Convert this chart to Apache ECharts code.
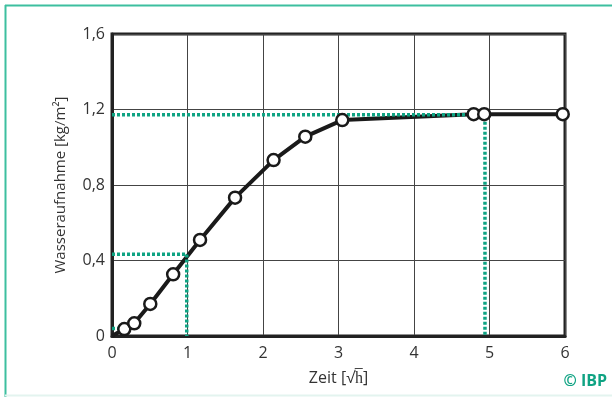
<!DOCTYPE html>
<html>
<head>
<meta charset="utf-8">
<script src="https://cdn.jsdelivr.net/npm/echarts@6/dist/echarts.min.js"></script>
<style>
  html, body { margin: 0; padding: 0; background: #fff; }
  #chart { width: 612px; height: 397px; }
</style>
</head>
<body>
<div id="chart"></div>
<script>
// Wasseraufnahme über Wurzel der Zeit
const timeX = [0, 0.163, 0.295, 0.507, 0.81, 1.166, 1.63, 2.14, 2.56, 3.05, 4.79, 4.93, 5.97]
const uptakeY = [0, 0.037, 0.067, 0.17, 0.327, 0.509, 0.733, 0.932, 1.056, 1.144, 1.175, 1.175, 1.175]
// Hilfslinien (gepunktet, grün): [x, y]
const guideLow = [[0, 0.04], [0.163, 0.04], [0.163, 0]]
const guideMid = [[0, 0.433], [0.99, 0.433], [0.99, 0]]
const guideHigh = [[0, 1.172], [4.94, 1.172], [4.94, 0]]
const yTicks = ['0', '0,4', '0,8', '1,2', '1,6']

const teal = '#0fa383'
const font = 'Open Sans'

const points = timeX.map((x, i) => [x, uptakeY[i]])
const guideStyle = { color: teal, width: 3.5, type: [3, 2] }

const chart = echarts.init(document.getElementById('chart'))
chart.setOption({
  animation: false,
  textStyle: { fontFamily: font },
  grid: {
    left: 112, top: 34, right: 47, bottom: 61,
    show: true, borderColor: '#222', borderWidth: 3
  },
  graphic: [
    { type: 'line', shape: { x1: 5.5, y1: 5, x2: 5.5, y2: 397 }, style: { stroke: '#3dbf9f', lineWidth: 2 } },
    { type: 'line', shape: { x1: 5, y1: 5.5, x2: 612, y2: 5.5 }, style: { stroke: '#3dbf9f', lineWidth: 2 } },
    { type: 'line', shape: { x1: 5, y1: 395.5, x2: 612, y2: 395.5 }, style: { stroke: '#e3f4ef', lineWidth: 2 } },
    {
      type: 'text', right: 5, top: 373,
      style: { text: '© IBP', fill: teal, font: 'bold 16px "Open Sans"' }
    }
  ],
  xAxis: {
    type: 'value', min: 0, max: 6, interval: 1,
    name: 'Zeit [√h̅]', nameLocation: 'middle', nameGap: 34,
    nameTextStyle: { fontSize: 16, color: '#333', fontFamily: font },
    axisLine: { show: true, lineStyle: { color: '#222', width: 3 } },
    axisTick: { show: false },
    axisLabel: { fontSize: 16, color: '#333', margin: 9, fontFamily: font },
    splitLine: { show: true, lineStyle: { color: '#444', width: 1 } }
  },
  yAxis: {
    type: 'value', min: 0, max: 1.6, interval: 0.4,
    name: 'Wasseraufnahme [kg/m²]', nameLocation: 'middle', nameGap: 44,
    nameTextStyle: { fontSize: 15, color: '#333', fontFamily: font },
    axisLine: { show: true, lineStyle: { color: '#222', width: 3 } },
    axisTick: { show: false },
    axisLabel: {
      fontSize: 16, color: '#333', margin: 7, fontFamily: font,
      formatter: v => yTicks[Math.round(v / 0.4)]
    },
    splitLine: { show: true, lineStyle: { color: '#444', width: 1 } }
  },
  series: [
    {
      type: 'line', data: points, showSymbol: false, z: 2,
      lineStyle: { color: '#1a1a1a', width: 4 }
    },
    { type: 'line', data: guideLow, showSymbol: false, z: 3, lineStyle: guideStyle },
    { type: 'line', data: guideMid, showSymbol: false, z: 3, lineStyle: guideStyle },
    { type: 'line', data: guideHigh, showSymbol: false, z: 3, lineStyle: guideStyle },
    {
      type: 'scatter', data: points.slice(1), z: 4,
      symbol: 'circle', symbolSize: 12,
      itemStyle: { color: '#fff', borderColor: '#1a1a1a', borderWidth: 2.5, opacity: 1 }
    }
  ]
})
</script>
</body>
</html>
